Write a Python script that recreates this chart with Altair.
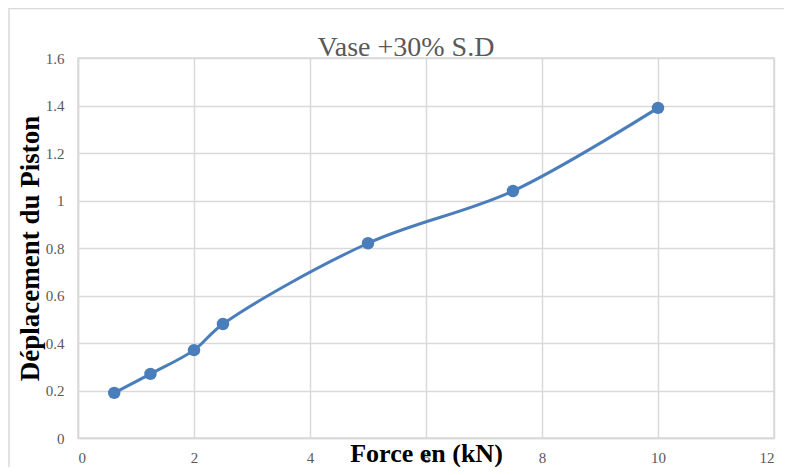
import altair as alt
import pandas as pd

force = [0.625, 1.25, 2.0, 2.5, 5.0, 7.5, 10.0]
deplacement = [0.19, 0.27, 0.37, 0.48, 0.82, 1.04, 1.39]
x_ticks = [0, 2, 4, 6, 8, 10, 12]
y_ticks = [0, 0.2, 0.4, 0.6, 0.8, 1.0, 1.2, 1.4, 1.6]

df = pd.DataFrame({"force": force, "dep": deplacement})

SERIF = "Liberation Serif"
BLUE = "#4a7ebb"
GRID = "#d9d9d9"
LABEL = "#595959"

xenc = alt.X("force:Q", scale=alt.Scale(domain=[0, 12], nice=False),
             axis=alt.Axis(values=x_ticks, format="~g", title="Force en (kN)", grid=True, ticks=False,
                           labelPadding=12, titleY=23, titleBaseline="alphabetic",
                           titleX=348, titleAnchor="middle", titleFontSize=26,
                           labelFont=SERIF, labelFontSize=15, labelColor=LABEL))
yenc = alt.Y("dep:Q", scale=alt.Scale(domain=[0, 1.6], nice=False),
             axis=alt.Axis(values=y_ticks, format="~g", title="Déplacement du Piston", grid=True, ticks=False,
                           labelPadding=14, titleX=-40, titleY=190, titleBaseline="alphabetic",
                           titleAngle=270,
                           labelFont=SERIF, labelFontSize=15, labelColor=LABEL))

frame = alt.Chart(pd.DataFrame({"a": [0]})).mark_rect(
    fill=None, stroke=GRID, strokeWidth=1.5, clip=False
).encode(x=alt.value(-69), x2=alt.value(900), y=alt.value(-49.5), y2=alt.value(600))

line = alt.Chart(df).mark_line(color=BLUE, strokeWidth=3, interpolate="catmull-rom").encode(x=xenc, y=yenc)
pts = alt.Chart(df).mark_point(filled=True, color=BLUE, size=155, opacity=1).encode(x="force:Q", y="dep:Q")

chart = alt.layer(frame, line, pts).properties(
    width=696, height=380,
    autosize=alt.AutoSizeParams(type="none"),
    padding={"left": 70, "top": 50, "right": 10, "bottom": 29},
    title=alt.TitleParams("Vase +30% S.D", font=SERIF, fontSize=28, fontWeight="normal",
                          color=LABEL, anchor="middle", baseline="alphabetic", offset=0, dx=-20,
                          dy=76, frame="group"),
).configure_view(stroke=GRID, strokeWidth=1.5).configure_axis(
    labelFont=SERIF, labelFontSize=15, labelColor=LABEL,
    titleFont=SERIF, titleFontSize=27, titleFontWeight="bold", titleColor="#000000",
    gridColor=GRID, gridWidth=1.5, domainColor=GRID, domainWidth=1.5,
)

chart.save("out.html", embed_options={"renderer": "svg", "actions": False})
